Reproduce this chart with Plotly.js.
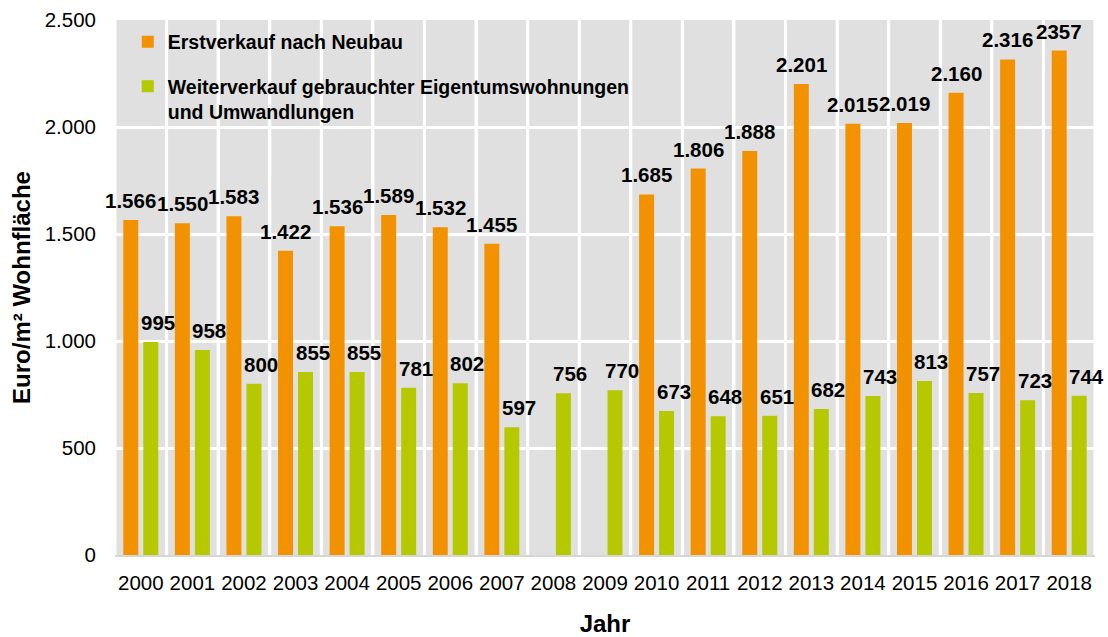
<!DOCTYPE html>
<html><head><meta charset="utf-8">
<script src="https://cdn.plot.ly/plotly-3.0.1.min.js"></script>
<style>html,body{margin:0;padding:0;background:#fff}#chart{width:1108px;height:637px}</style>
</head><body><div id="chart"></div>
<script>
const years = ['2000','2001','2002','2003','2004','2005','2006','2007','2008','2009','2010','2011','2012','2013','2014','2015','2016','2017','2018'];
const neubau = [1566,1550,1583,1422,1536,1589,1532,1455,null,null,1685,1806,1888,2201,2015,2019,2160,2316,2357];
const neubauLabels = ['1.566','1.550','1.583','1.422','1.536','1.589','1.532','1.455','','','1.685','1.806','1.888','2.201','2.015','2.019','2.160','2.316','2357'];
const weiter = [995,958,800,855,855,781,802,597,756,770,673,648,651,682,743,813,757,723,744];
const weiterLabels = ['995','958','800','855','855','781','802','597','756','770','673','648','651','682','743','813','757','723','744'];
const seriesNames = ['Erstverkauf nach Neubau','Weiterverkauf gebrauchter Eigentumswohnungen<br>und Umwandlungen'];
const yTicks = [0,500,1000,1500,2000,2500];

const orange = '#F39200', green = '#B5C800';
const FONT = 'Liberation Sans, Arial, sans-serif';

// positions of the year slots on a linear axis, labelled with the years
const pos = years.map((_, i) => i);
const boundaries = pos.map(p => p - 0.5).concat([years.length - 0.5]);
const yMax = yTicks[yTicks.length - 1];

const traces = [
  {type:'bar', x:pos, y:neubau, name:seriesNames[0], marker:{color:orange}, legendgroup:'a', hoverinfo:'skip'},
  {type:'bar', x:pos, y:weiter, name:seriesNames[1], marker:{color:green}, legendgroup:'b', hoverinfo:'skip'}
];

const annotations = [];
pos.forEach((p,i)=>{
  if (neubau[i] !== null) annotations.push({x:p, y:neubau[i], xref:'x', yref:'y', text:neubauLabels[i], showarrow:false, xshift:-10, yshift:6, yanchor:'bottom', font:{family:FONT, size:20.5, color:'#000', weight:'bold'}});
  annotations.push({x:p, y:weiter[i], xref:'x', yref:'y', text:weiterLabels[i], showarrow:false, xshift:17, yshift:6, yanchor:'bottom', font:{family:FONT, size:20.5, color:'#000', weight:'bold'}});
});

const shapes = boundaries.map(b => ({type:'line', xref:'x', yref:'y', x0:b, x1:b, y0:0, y1:yMax, line:{color:'#fff', width:3}, layer:'below'}));

const layout = {
  width:1108, height:637,
  margin:{l:115, r:13, t:20, b:82},
  paper_bgcolor:'#fff', plot_bgcolor:'#E0E0E0',
  font:{family:FONT, size:20, color:'#000'},
  separators:',.',
  barmode:'group', bargap:0.225, bargroupgap:0.25,
  showlegend:true,
  legend:{x:0.013, y:0.995, xanchor:'left', yanchor:'top', bgcolor:'rgba(0,0,0,0)', font:{family:FONT, size:19.5, weight:'bold', color:'#000'}, tracegroupgap:16, valign:'top', traceorder:'grouped'},
  xaxis:{type:'linear', range:[-0.5, years.length-0.5], autorange:false, tickmode:'array', tickvals:pos, ticktext:years,
    showgrid:false, ticks:'', showline:true, linecolor:'#D6D6D6', linewidth:2, zeroline:false,
    minor:{tickmode:'linear', tick0:-0.5, dtick:1, showgrid:true, gridcolor:'#fff', gridwidth:3, ticks:''},
    tickangle:0, tickfont:{family:FONT, size:20.5, color:'#000'}, ticklabelstandoff:8,
    title:{text:'<b>Jahr</b>', font:{family:FONT, size:24, color:'#000'}, standoff:23}},
  yaxis:{range:[0,yMax], autorange:false, tickvals:yTicks, tickformat:',d', showgrid:true, gridcolor:'#fff', gridwidth:3, zeroline:false, showline:false, ticks:'',
    tickfont:{family:FONT, size:20.5, color:'#000'}, ticklabelstandoff:18,
    title:{text:'<b>Euro/m² Wohnfläche</b>', font:{family:FONT, size:24, color:'#000'}, standoff:7}},
  shapes:shapes,
  annotations:annotations
};

Plotly.newPlot('chart', traces, layout, {displayModeBar:false, staticPlot:true});
</script></body></html>
